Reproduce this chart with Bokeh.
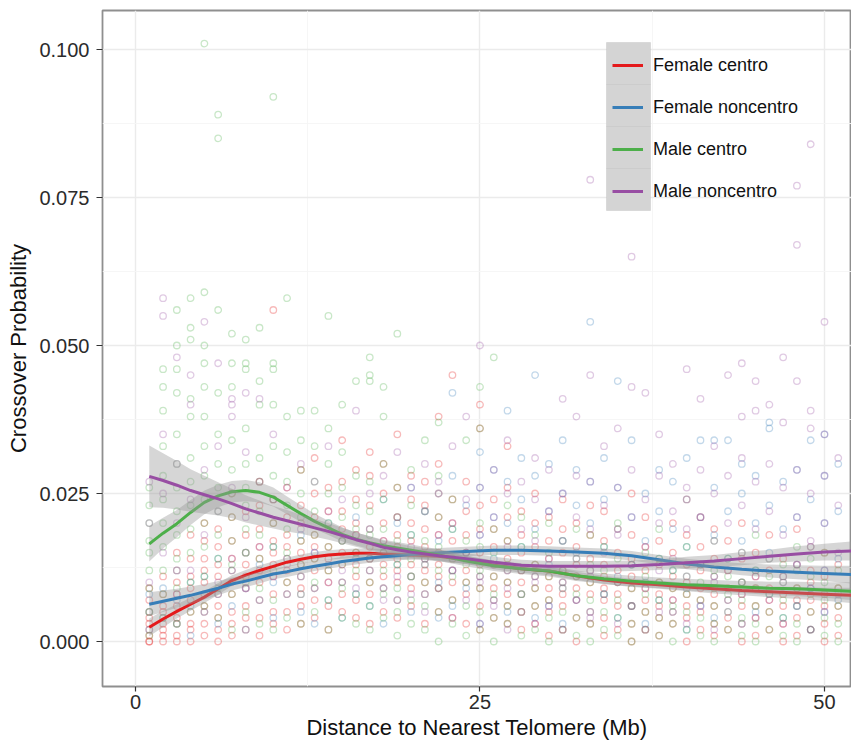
from bokeh.plotting import figure
from bokeh.models import (Range1d, FixedTicker, NumeralTickFormatter, Legend, LegendItem,
                          BoxAnnotation)
from bokeh.embed import file_html
from bokeh.resources import INLINE

# ---------------- data ----------------
series_names = ["Female centro", "Female noncentro", "Male centro", "Male noncentro"]
series_colors = ["#E41A1C", "#377EB8", "#4DAF4A", "#984EA3"]

x_ticks = [0, 25, 50]
x_minor = [12.5, 37.5]
y_ticks = [0.0, 0.025, 0.05, 0.075, 0.1]
y_minor = [0.0125, 0.0375, 0.0625, 0.0875]

# point columns: entry i holds the y values observed at x = i + 1 (Mb)
fc_cols = [
    [0.0, 0.0, 0.001, 0.002, 0.003, 0.004, 0.005, 0.007, 0.009],
    [0.0, 0.001, 0.002, 0.003, 0.005, 0.006, 0.008, 0.011],
    [0.0, 0.001, 0.003, 0.004, 0.006, 0.008, 0.010, 0.012, 0.015],
    [0.0, 0.002, 0.003, 0.005, 0.007, 0.009, 0.011, 0.014, 0.018],
    [0.001, 0.003, 0.005, 0.006, 0.008, 0.010, 0.012, 0.014, 0.017, 0.020],
    [0.0, 0.002, 0.004, 0.006, 0.008, 0.011, 0.013, 0.016, 0.019],
    [0.001, 0.003, 0.005, 0.008, 0.010, 0.012, 0.014, 0.017, 0.021, 0.025],
    [0.002, 0.004, 0.006, 0.009, 0.011, 0.013, 0.015, 0.018, 0.022],
    [0.001, 0.004, 0.007, 0.010, 0.012, 0.014, 0.016, 0.019, 0.023, 0.027],
    [0.003, 0.005, 0.008, 0.011, 0.013, 0.015, 0.017, 0.020, 0.024, 0.056],
    [0.002, 0.005, 0.008, 0.010, 0.012, 0.014, 0.016, 0.018, 0.021, 0.026],
    [0.003, 0.006, 0.009, 0.011, 0.013, 0.015, 0.017, 0.020, 0.023, 0.029],
    [0.004, 0.007, 0.009, 0.012, 0.014, 0.016, 0.018, 0.021, 0.025, 0.031],
    [0.002, 0.006, 0.010, 0.012, 0.014, 0.016, 0.019, 0.022, 0.026],
    [0.005, 0.008, 0.010, 0.013, 0.015, 0.017, 0.019, 0.022, 0.027, 0.034],
    [0.004, 0.007, 0.011, 0.013, 0.015, 0.018, 0.020, 0.024, 0.029],
    [0.003, 0.008, 0.010, 0.012, 0.014, 0.016, 0.019, 0.023, 0.028, 0.032],
    [0.005, 0.009, 0.011, 0.013, 0.015, 0.017, 0.020, 0.025, 0.030],
    [0.004, 0.007, 0.010, 0.012, 0.014, 0.016, 0.018, 0.021, 0.026, 0.035],
    [0.006, 0.009, 0.011, 0.013, 0.015, 0.017, 0.020, 0.024, 0.028],
    [0.003, 0.008, 0.010, 0.012, 0.014, 0.016, 0.019, 0.023, 0.027],
    [0.005, 0.009, 0.011, 0.013, 0.015, 0.018, 0.021, 0.025, 0.030, 0.038],
    [0.004, 0.007, 0.010, 0.012, 0.014, 0.017, 0.020, 0.024, 0.045],
    [0.003, 0.008, 0.010, 0.012, 0.015, 0.018, 0.022, 0.027],
    [0.002, 0.006, 0.009, 0.011, 0.013, 0.015, 0.019, 0.023, 0.036, 0.040],
    [0.004, 0.007, 0.009, 0.011, 0.013, 0.016, 0.019, 0.024],
    [0.003, 0.006, 0.008, 0.010, 0.012, 0.014, 0.017, 0.021, 0.026, 0.033],
    [0.002, 0.005, 0.008, 0.010, 0.012, 0.015, 0.018, 0.022],
    [0.003, 0.006, 0.009, 0.011, 0.013, 0.016, 0.020, 0.025],
    [0.001, 0.005, 0.007, 0.009, 0.011, 0.014, 0.017, 0.021],
    [0.002, 0.006, 0.008, 0.010, 0.012, 0.015, 0.019, 0.024],
    [0.0, 0.004, 0.007, 0.009, 0.011, 0.013, 0.016, 0.020],
    [0.003, 0.005, 0.008, 0.010, 0.012, 0.014, 0.018, 0.023],
    [0.001, 0.004, 0.007, 0.009, 0.011, 0.013, 0.017, 0.022],
    [0.002, 0.006, 0.008, 0.010, 0.012, 0.015, 0.019],
    [0.0, 0.003, 0.006, 0.009, 0.011, 0.014, 0.018, 0.025],
    [0.002, 0.005, 0.007, 0.009, 0.012, 0.016, 0.021],
    [0.001, 0.004, 0.006, 0.008, 0.010, 0.013, 0.017],
    [0.003, 0.005, 0.007, 0.009, 0.011, 0.015, 0.020],
    [0.0, 0.004, 0.006, 0.008, 0.010, 0.013, 0.018, 0.024],
    [0.002, 0.005, 0.007, 0.009, 0.012, 0.016, 0.021],
    [0.001, 0.003, 0.006, 0.008, 0.011, 0.014, 0.019],
    [0.002, 0.004, 0.007, 0.009, 0.012, 0.017],
    [0.0, 0.003, 0.006, 0.008, 0.010, 0.014, 0.020],
    [0.001, 0.004, 0.006, 0.009, 0.011, 0.015],
    [0.002, 0.005, 0.007, 0.009, 0.012, 0.018],
    [0.0, 0.003, 0.006, 0.008, 0.011, 0.014],
    [0.001, 0.004, 0.007, 0.009, 0.013, 0.019],
    [0.002, 0.005, 0.007, 0.010, 0.012, 0.016],
    [0.0, 0.003, 0.006, 0.008, 0.011, 0.015],
    [0.001, 0.004, 0.006, 0.009, 0.013],
]

fn_cols = [
    [0.002, 0.005, 0.008], [0.004, 0.009], [0.003, 0.007, 0.012], [0.001, 0.006, 0.010],
    [0.005, 0.011], [0.003, 0.008, 0.014], [0.006, 0.012], [0.002, 0.009, 0.015],
    [0.007, 0.013], [0.004, 0.010, 0.016], [0.008, 0.014], [0.005, 0.011, 0.018],
    [0.003, 0.009, 0.015], [0.007, 0.013, 0.020], [0.004, 0.010, 0.017], [0.008, 0.014, 0.021],
    [0.006, 0.012, 0.019], [0.003, 0.009, 0.016, 0.024], [0.007, 0.013, 0.020],
    [0.005, 0.011, 0.018, 0.026], [0.008, 0.014, 0.022], [0.004, 0.010, 0.017, 0.025],
    [0.006, 0.012, 0.019, 0.028, 0.042], [0.009, 0.015, 0.023],
    [0.003, 0.011, 0.018, 0.026, 0.032], [0.007, 0.014, 0.021, 0.029],
    [0.005, 0.012, 0.020, 0.027, 0.039], [0.008, 0.016, 0.024, 0.031],
    [0.004, 0.011, 0.019, 0.028, 0.045], [0.006, 0.013, 0.022, 0.030],
    [0.003, 0.010, 0.017, 0.025, 0.034], [0.007, 0.015, 0.023, 0.029],
    [0.005, 0.012, 0.020, 0.027, 0.054], [0.008, 0.016, 0.024, 0.031],
    [0.004, 0.011, 0.019, 0.026, 0.044], [0.006, 0.013, 0.021, 0.034],
    [0.003, 0.010, 0.017, 0.025], [0.007, 0.014, 0.022, 0.029],
    [0.005, 0.012, 0.019, 0.027], [0.002, 0.009, 0.016, 0.024, 0.031],
    [0.006, 0.013, 0.021, 0.034], [0.004, 0.011, 0.018, 0.026, 0.034],
    [0.007, 0.014, 0.022, 0.034], [0.003, 0.010, 0.017, 0.025, 0.030],
    [0.005, 0.012, 0.020, 0.028], [0.008, 0.015, 0.023, 0.036, 0.037],
    [0.004, 0.011, 0.019, 0.027], [0.006, 0.013, 0.021, 0.029],
    [0.002, 0.009, 0.016, 0.024, 0.034], [0.005, 0.012, 0.020, 0.028, 0.035],
    [0.007, 0.014, 0.022, 0.030],
]

mc_cols = [
    [0.001, 0.005, 0.009, 0.012, 0.015, 0.017, 0.020, 0.023, 0.026],
    [0.004, 0.008, 0.012, 0.016, 0.020, 0.024, 0.028, 0.033, 0.039, 0.043, 0.046],
    [0.003, 0.009, 0.014, 0.018, 0.022, 0.026, 0.030, 0.035, 0.042, 0.046, 0.050, 0.056],
    [0.005, 0.010, 0.015, 0.019, 0.023, 0.027, 0.031, 0.038, 0.041, 0.051, 0.053, 0.058],
    [0.006, 0.011, 0.016, 0.020, 0.024, 0.028, 0.033, 0.038, 0.043, 0.047, 0.050, 0.059, 0.101],
    [0.004, 0.009, 0.014, 0.018, 0.022, 0.026, 0.030, 0.035, 0.042, 0.056, 0.085, 0.089],
    [0.002, 0.008, 0.013, 0.017, 0.021, 0.025, 0.029, 0.034, 0.043, 0.047, 0.052],
    [0.005, 0.010, 0.015, 0.019, 0.023, 0.026, 0.030, 0.036, 0.046, 0.047, 0.051],
    [0.003, 0.009, 0.014, 0.018, 0.022, 0.027, 0.031, 0.040, 0.044, 0.053],
    [0.002, 0.007, 0.012, 0.016, 0.020, 0.024, 0.028, 0.033, 0.040, 0.046, 0.047, 0.092],
    [0.004, 0.010, 0.015, 0.019, 0.023, 0.027, 0.032, 0.038, 0.058],
    [0.003, 0.008, 0.013, 0.017, 0.021, 0.025, 0.029, 0.034, 0.039],
    [0.005, 0.010, 0.014, 0.018, 0.022, 0.027, 0.033, 0.039],
    [0.002, 0.007, 0.012, 0.016, 0.020, 0.025, 0.030, 0.036, 0.055],
    [0.004, 0.009, 0.013, 0.017, 0.021, 0.026, 0.032, 0.040],
    [0.003, 0.008, 0.012, 0.015, 0.019, 0.023, 0.028, 0.044],
    [0.002, 0.006, 0.010, 0.014, 0.018, 0.022, 0.027, 0.044, 0.045, 0.048],
    [0.004, 0.008, 0.012, 0.015, 0.019, 0.024, 0.030, 0.038, 0.043],
    [0.001, 0.005, 0.009, 0.013, 0.017, 0.021, 0.026, 0.052],
    [0.003, 0.007, 0.011, 0.014, 0.018, 0.023, 0.029],
    [0.002, 0.006, 0.010, 0.013, 0.017, 0.022, 0.034],
    [0.0, 0.005, 0.009, 0.012, 0.016, 0.021, 0.028, 0.037],
    [0.003, 0.007, 0.011, 0.014, 0.019, 0.024],
    [0.001, 0.006, 0.010, 0.013, 0.017, 0.034],
    [0.002, 0.005, 0.009, 0.012, 0.016, 0.020, 0.036, 0.043],
    [0.0, 0.004, 0.008, 0.011, 0.015, 0.019, 0.048],
    [0.003, 0.006, 0.010, 0.013, 0.017, 0.023],
    [0.001, 0.005, 0.008, 0.012, 0.016, 0.021],
    [0.002, 0.006, 0.009, 0.013, 0.018],
    [0.0, 0.004, 0.007, 0.011, 0.015, 0.020],
    [0.002, 0.005, 0.009, 0.012, 0.017],
    [0.001, 0.004, 0.008, 0.011, 0.014, 0.019],
    [0.0, 0.003, 0.007, 0.010, 0.013, 0.018],
    [0.002, 0.005, 0.008, 0.012, 0.016],
    [0.001, 0.004, 0.007, 0.010, 0.014, 0.020],
    [0.0, 0.003, 0.006, 0.009, 0.013],
    [0.002, 0.005, 0.008, 0.011, 0.015],
    [0.001, 0.004, 0.007, 0.010, 0.014, 0.019],
    [0.0, 0.003, 0.006, 0.009, 0.012],
    [0.002, 0.005, 0.008, 0.011, 0.016],
    [0.001, 0.004, 0.007, 0.010, 0.013],
    [0.0, 0.003, 0.006, 0.009, 0.012, 0.017],
    [0.002, 0.005, 0.008, 0.011, 0.014],
    [0.001, 0.004, 0.007, 0.010, 0.015],
    [0.0, 0.003, 0.006, 0.009, 0.012, 0.018],
    [0.002, 0.005, 0.008, 0.011, 0.014],
    [0.001, 0.004, 0.007, 0.010, 0.013],
    [0.0, 0.003, 0.006, 0.009, 0.012, 0.016],
    [0.002, 0.005, 0.008, 0.011, 0.014],
    [0.001, 0.004, 0.007, 0.010, 0.015],
    [0.0, 0.003, 0.006, 0.009, 0.012],
]

mn_cols = [
    [0.010, 0.020, 0.027], [0.015, 0.025, 0.035, 0.055, 0.058], [0.008, 0.020, 0.030, 0.048],
    [0.012, 0.024, 0.040, 0.045], [0.018, 0.029, 0.054], [0.010, 0.022, 0.033, 0.047],
    [0.014, 0.026, 0.038, 0.040, 0.041], [0.009, 0.021, 0.032, 0.042], [0.016, 0.027, 0.041],
    [0.011, 0.024, 0.035], [0.013, 0.026], [0.008, 0.019, 0.030], [0.015, 0.027],
    [0.010, 0.022, 0.033], [0.012, 0.024], [0.009, 0.018, 0.039], [0.014, 0.025],
    [0.007, 0.017, 0.028], [0.011, 0.021, 0.032], [0.008, 0.016, 0.026],
    [0.005, 0.013, 0.022, 0.030], [0.009, 0.018, 0.027], [0.004, 0.012, 0.020, 0.033],
    [0.007, 0.015, 0.024, 0.038], [0.003, 0.010, 0.018, 0.026, 0.050],
    [0.006, 0.013, 0.021, 0.029], [0.002, 0.009, 0.016, 0.025, 0.034],
    [0.005, 0.012, 0.019, 0.027], [0.003, 0.010, 0.017, 0.024, 0.031],
    [0.006, 0.014, 0.022, 0.029], [0.002, 0.009, 0.017, 0.025, 0.041],
    [0.007, 0.014, 0.021, 0.028, 0.038], [0.004, 0.011, 0.019, 0.027, 0.045, 0.078],
    [0.008, 0.015, 0.023, 0.033], [0.003, 0.010, 0.018, 0.026, 0.036],
    [0.006, 0.013, 0.021, 0.029, 0.043, 0.065], [0.002, 0.009, 0.016, 0.024, 0.042],
    [0.005, 0.012, 0.020, 0.028, 0.035], [0.007, 0.014, 0.022, 0.030],
    [0.003, 0.011, 0.019, 0.026, 0.046], [0.006, 0.013, 0.021, 0.029, 0.041],
    [0.002, 0.010, 0.017, 0.025, 0.033], [0.005, 0.012, 0.020, 0.028, 0.045],
    [0.008, 0.015, 0.023, 0.031, 0.038, 0.047], [0.004, 0.011, 0.019, 0.027, 0.039, 0.044],
    [0.007, 0.014, 0.022, 0.030, 0.040], [0.003, 0.010, 0.018, 0.026, 0.037, 0.048],
    [0.006, 0.013, 0.021, 0.029, 0.044, 0.067, 0.077],
    [0.002, 0.009, 0.017, 0.025, 0.036, 0.039, 0.084],
    [0.005, 0.012, 0.020, 0.028, 0.035, 0.054], [0.008, 0.015, 0.023, 0.031],
]

# smoothed fits and half-widths of their confidence bands
curve_x = [1, 2, 3, 4, 5, 6, 7, 8, 9, 10, 11, 12, 13, 14, 15, 16, 17, 18, 19, 20,
           22, 24, 26, 28, 30, 32, 34, 36, 38, 40, 42, 44, 46, 48, 50, 52]
fc_fit = [0.0024, 0.0038, 0.0051, 0.0063, 0.0075, 0.0089, 0.0103, 0.0112, 0.0120, 0.0127,
          0.0134, 0.0139, 0.0143, 0.0146, 0.0148, 0.0149, 0.0149, 0.0148, 0.0147, 0.0146,
          0.0144, 0.0138, 0.0129, 0.0123, 0.0119, 0.0111, 0.0104, 0.0099, 0.0096, 0.0092,
          0.0089, 0.0086, 0.0084, 0.0082, 0.0080, 0.0078]
fn_fit = [0.0063, 0.0068, 0.0073, 0.0078, 0.0084, 0.0090, 0.0097, 0.0102, 0.0108, 0.0114,
          0.0118, 0.0123, 0.0127, 0.0131, 0.0135, 0.0138, 0.0141, 0.0143, 0.0145, 0.0147,
          0.0150, 0.0152, 0.0154, 0.0154, 0.0153, 0.0151, 0.0149, 0.0145, 0.0138, 0.0131,
          0.0126, 0.0122, 0.0119, 0.0117, 0.0115, 0.0113]
mc_fit = [0.0165, 0.0183, 0.0199, 0.0218, 0.0235, 0.0246, 0.0253, 0.0255, 0.0252, 0.0244,
          0.0230, 0.0216, 0.0203, 0.0192, 0.0181, 0.0173, 0.0167, 0.0162, 0.0158, 0.0154,
          0.0146, 0.0136, 0.0128, 0.0123, 0.0119, 0.0111, 0.0106, 0.0102, 0.0099, 0.0096,
          0.0094, 0.0092, 0.0090, 0.0089, 0.0087, 0.0085]
mn_fit = [0.0279, 0.0272, 0.0264, 0.0255, 0.0248, 0.0241, 0.0233, 0.0224, 0.0217, 0.0210,
          0.0204, 0.0198, 0.0192, 0.0186, 0.0179, 0.0172, 0.0166, 0.0159, 0.0155, 0.0151,
          0.0145, 0.0140, 0.0134, 0.0129, 0.0127, 0.0127, 0.0127, 0.0128, 0.0130, 0.0133,
          0.0136, 0.0140, 0.0144, 0.0148, 0.0151, 0.0153]
fc_se = [0.0015, 0.0014, 0.0012, 0.0011, 0.0010, 0.0010, 0.0009, 0.0009, 0.0009, 0.0008,
         0.0008, 0.0008, 0.0008, 0.0008, 0.0008, 0.0008, 0.0008, 0.0008, 0.0008, 0.0008,
         0.0007, 0.0007, 0.0007, 0.0007, 0.0007, 0.0007, 0.0007, 0.0007, 0.0007, 0.0007,
         0.0008, 0.0008, 0.0009, 0.0010, 0.0011, 0.0013]
fn_se = [0.0020, 0.0018, 0.0016, 0.0015, 0.0013, 0.0012, 0.0011, 0.0010, 0.0010, 0.0009,
         0.0009, 0.0009, 0.0008, 0.0008, 0.0008, 0.0008, 0.0008, 0.0008, 0.0008, 0.0008,
         0.0008, 0.0008, 0.0008, 0.0008, 0.0008, 0.0008, 0.0008, 0.0008, 0.0008, 0.0009,
         0.0009, 0.0010, 0.0011, 0.0012, 0.0013, 0.0015]
mc_se = [0.0030, 0.0026, 0.0023, 0.0021, 0.0020, 0.0019, 0.0018, 0.0018, 0.0017, 0.0016,
         0.0015, 0.0014, 0.0013, 0.0012, 0.0012, 0.0011, 0.0011, 0.0010, 0.0010, 0.0010,
         0.0010, 0.0009, 0.0009, 0.0009, 0.0009, 0.0009, 0.0009, 0.0009, 0.0009, 0.0010,
         0.0010, 0.0010, 0.0011, 0.0012, 0.0013, 0.0015]
mn_se = [0.0052, 0.0046, 0.0041, 0.0036, 0.0032, 0.0028, 0.0025, 0.0023, 0.0021, 0.0019,
         0.0018, 0.0016, 0.0015, 0.0014, 0.0013, 0.0012, 0.0012, 0.0011, 0.0011, 0.0010,
         0.0010, 0.0009, 0.0009, 0.0009, 0.0009, 0.0009, 0.0009, 0.0009, 0.0009, 0.0010,
         0.0010, 0.0011, 0.0011, 0.0013, 0.0014, 0.0016]

point_cols = [fc_cols, fn_cols, mc_cols, mn_cols]
fits = [fc_fit, fn_fit, mc_fit, mn_fit]
ses = [fc_se, fn_se, mc_se, mn_se]

# ---------------- figure ----------------
FONT = "Liberation Sans"
p = figure(width=851, height=746, output_backend="svg", toolbar_location=None,
           x_range=Range1d(-2.395, 51.96), y_range=Range1d(-0.0076, 0.10659),
           min_border_left=102, min_border_right=0, min_border_top=10, min_border_bottom=60,
           background_fill_color="white", border_fill_color="white")

p.outline_line_color = "#8f8f8f"
p.outline_line_width = 1.8

p.xaxis.ticker = FixedTicker(ticks=x_ticks, minor_ticks=x_minor)
p.yaxis.ticker = FixedTicker(ticks=y_ticks, minor_ticks=y_minor)
p.yaxis.formatter = NumeralTickFormatter(format="0.000")

for ax in (p.xaxis, p.yaxis):
    ax.axis_line_color = None
    ax.major_tick_line_color = "#333333"
    ax.major_tick_line_width = 1.2
    ax.major_tick_in = 0
    ax.minor_tick_line_color = None
    ax.major_label_text_font = FONT
    ax.major_label_text_font_size = "20px"
    ax.major_label_text_color = "#2b2b2b"
    ax.axis_label_text_font = FONT
    ax.axis_label_text_font_size = "22px"
    ax.axis_label_text_font_style = "normal"
    ax.axis_label_text_color = "#111111"

p.xaxis.major_tick_out = 5
p.xaxis.major_label_standoff = 3
p.xaxis.axis_label_standoff = 3
p.yaxis.major_tick_out = 6
p.yaxis.major_label_standoff = 7
p.yaxis.axis_label_standoff = 5
p.xaxis.axis_label = "Distance to Nearest Telomere (Mb)"
p.yaxis.axis_label = "Crossover Probability"

for g in (p.xgrid, p.ygrid):
    g.grid_line_color = "#EBEBEB"
    g.grid_line_width = 1.4
    g.minor_grid_line_color = "#F5F5F5"
    g.minor_grid_line_width = 0.9

# points
for cols, color in zip(point_cols, series_colors):
    xs, ys = [], []
    for i, col in enumerate(cols):
        for v in col:
            xs.append(i + 1)
            ys.append(v)
    p.scatter(xs, ys, marker="circle", size=6.5, fill_color=None,
              line_color=color, line_alpha=0.3, line_width=1.3)

# smooth fits with bands
line_renderers = []
for fit, se, color in zip(fits, ses, series_colors):
    lower = [f - s for f, s in zip(fit, se)]
    upper = [f + s for f, s in zip(fit, se)]
    p.varea(x=curve_x, y1=lower, y2=upper, fill_color="#999999", fill_alpha=0.4)
    r = p.line(curve_x, fit, line_color=color, line_width=3)
    line_renderers.append(r)

# legend key backgrounds (screen units relative to the plot frame)
for k in range(len(series_names)):
    p.add_layout(BoxAnnotation(left=504, right=548, top=644 - 42 * k, bottom=602 - 42 * k,
                               left_units="screen", right_units="screen",
                               top_units="screen", bottom_units="screen",
                               fill_color="#D4D4D4", fill_alpha=1.0,
                               line_color="#B5B5B5", line_width=1))

legend = Legend(items=[LegendItem(label=n, renderers=[r]) for n, r in zip(series_names, line_renderers)],
                location=(510, 474), glyph_width=31, glyph_height=42, spacing=0, padding=0,
                margin=0, label_standoff=10, label_text_font=FONT, label_text_font_size="18px",
                label_text_color="#111111", background_fill_alpha=0, border_line_alpha=0)
p.add_layout(legend, "center")

open("out.html", "w").write(file_html(p, INLINE))
